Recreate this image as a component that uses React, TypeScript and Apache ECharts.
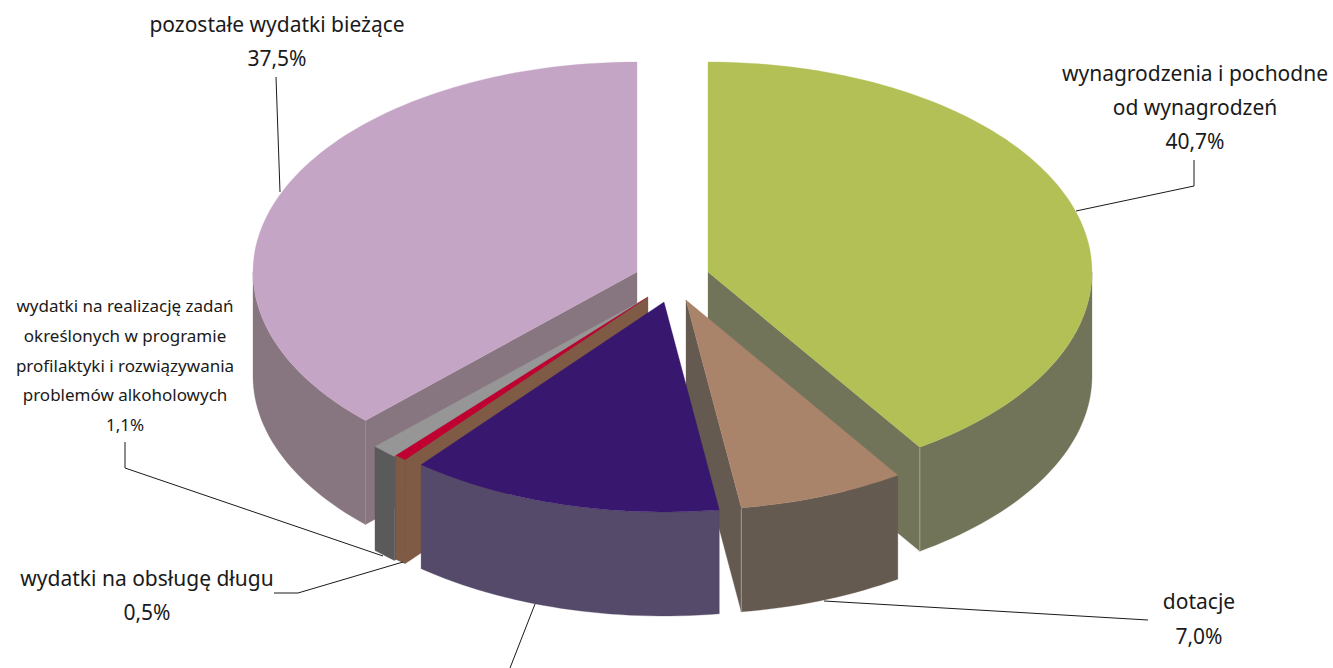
import React, { useEffect, useRef } from "react";
import * as echarts from "echarts";

// Data (percent shares, clockwise from 12 o'clock)
const sliceNames = [
  "wynagrodzenia i pochodne od wynagrodzeń",
  "dotacje",
  "wydatki majątkowe",
  "wydatki na obsługę długu",
  "wydatki na realizację zadań",
  "pozostałe wydatki bieżące",
];
const sliceValues = [40.7, 7.0, 13.2, 0.5, 1.1, 37.5];
const topColors = ["#B2C056", "#A9836A", "#38176F", "#C00030", "#969696", "#C5A5C5"];
const wallColors = ["#72745A", "#655A50", "#554A69", "#7F5B45", "#5A5A5A", "#87757F"];
const seamColors = ["#A4A590", "#A09A90", "", "", "", "#9A8C96"];
const apexes = [[708, 272], [686, 300], [664, 302], [648, 297], [646.5, 298], [637, 272]];
const drawOrder = [5, 4, 3, 0, 1, 2];

const RX = 384;
const RY = 210;
const DEPTH = 104;

const labelTexts = [
  "wynagrodzenia i pochodne\nod wynagrodzeń\n40,7%",
  "dotacje\n7,0%",
  "wydatki na obsługę długu\n0,5%",
  "wydatki na realizację zadań\nokreślonych w programie\nprofilaktyki i rozwiązywania\nproblemów alkoholowych\n1,1%",
  "pozostałe wydatki bieżące\n37,5%",
];
const labelLayout = [
  { x: 1195, y: 107, size: 21, lh: 34 },
  { x: 1199, y: 618, size: 21, lh: 35 },
  { x: 147, y: 595, size: 21, lh: 34 },
  { x: 125, y: 365, size: 17, lh: 29.7 },
  { x: 277, y: 41, size: 21, lh: 34 },
];
const leaders = [
  [[1076, 211], [1194, 186], [1194, 160]],
  [[824, 601], [1148, 620]],
  [[274, 593], [298, 593], [403, 562]],
  [[125, 442], [125, 468], [383, 556]],
  [[276, 77], [280, 192]],
  [[535, 604], [510, 668]],
];

const rad = (d: number) => (d * Math.PI) / 180;

function rim(apex: number[], deg: number, dy = 0) {
  return [apex[0] + RX * Math.sin(rad(deg)), apex[1] - RY * Math.cos(rad(deg)) + dy];
}
function arc(apex: number[], from: number, to: number, dy = 0) {
  const n = Math.max(2, Math.ceil(Math.abs(to - from) / 1.5));
  const pts: number[][] = [];
  for (let i = 0; i <= n; i++) pts.push(rim(apex, from + ((to - from) * i) / n, dy));
  return pts;
}

const renderSlice = (_: any, api: any) => {
  const value = api.value(0) as number;
  const startPct = api.value(1) as number;
  const idx = api.value(2) as number;
  const a = startPct * 3.6;
  const b = (startPct + value) * 3.6;
  const apex = apexes[idx];
  const children: any[] = [];
  const poly = (points: number[][], fill: string) =>
    children.push({ type: "polygon", shape: { points }, style: { fill, stroke: fill, lineWidth: 0.3 }, silent: true });
  const face = (deg: number) => {
    const r = rim(apex, deg);
    const r2 = rim(apex, deg, DEPTH);
    poly([apex, r, r2, [apex[0], apex[1] + DEPTH]], wallColors[idx]);
  };
  if (Math.sin(rad(a)) < -1e-6) face(a);
  if (Math.sin(rad(b)) > 1e-6) face(b);
  const lo = Math.max(a, 90);
  const hi = Math.min(b, 270);
  if (hi > lo) {
    poly([...arc(apex, lo, hi), ...arc(apex, hi, lo, DEPTH)], wallColors[idx]);
    if (seamColors[idx]) {
      const seamDeg = idx === 5 ? a : b;
      const p = rim(apex, seamDeg);
      children.push({
        type: "line",
        shape: { x1: p[0], y1: p[1] + 1, x2: p[0], y2: p[1] + DEPTH },
        style: { stroke: seamColors[idx], lineWidth: 1 },
        silent: true,
      });
    }
  }
  poly([apex, ...arc(apex, a, b)], topColors[idx]);
  return { type: "group", children };
};

export default function App() {
  const ref = useRef<HTMLDivElement>(null);
  useEffect(() => {
    const chart = echarts.init(ref.current!, undefined, { renderer: "svg" });
    const starts: number[] = [];
    sliceValues.reduce((acc, v, i) => {
      starts[i] = acc;
      return acc + v;
    }, 0);
    chart.setOption({
      animation: false,
      backgroundColor: "#ffffff",
      series: [
        {
          type: "custom",
          coordinateSystem: "none",
          renderItem: renderSlice,
          silent: true,
          data: drawOrder.map((i) => ({ name: sliceNames[i], value: [sliceValues[i], starts[i], i] })),
        },
      ],
      graphic: [
        ...leaders.map((pts) => ({
          type: "polyline",
          z: 5,
          shape: { points: pts },
          style: { stroke: "#1a1a1a", lineWidth: 1, fill: "none" },
          silent: true,
        })),
        ...labelTexts.map((text, i) => ({
          type: "text",
          z: 6,
          x: labelLayout[i].x,
          y: labelLayout[i].y,
          silent: true,
          style: {
            text,
            fill: "#1a1a1a",
            font: `${labelLayout[i].size}px "Noto Sans"`,
            lineHeight: labelLayout[i].lh,
            align: "center",
            verticalAlign: "middle",
          },
        })),
      ],
    });
    return () => chart.dispose();
  }, []);
  return <div ref={ref} style={{ position: "fixed", left: 0, top: 0, width: 1333, height: 668 }} />;
}
